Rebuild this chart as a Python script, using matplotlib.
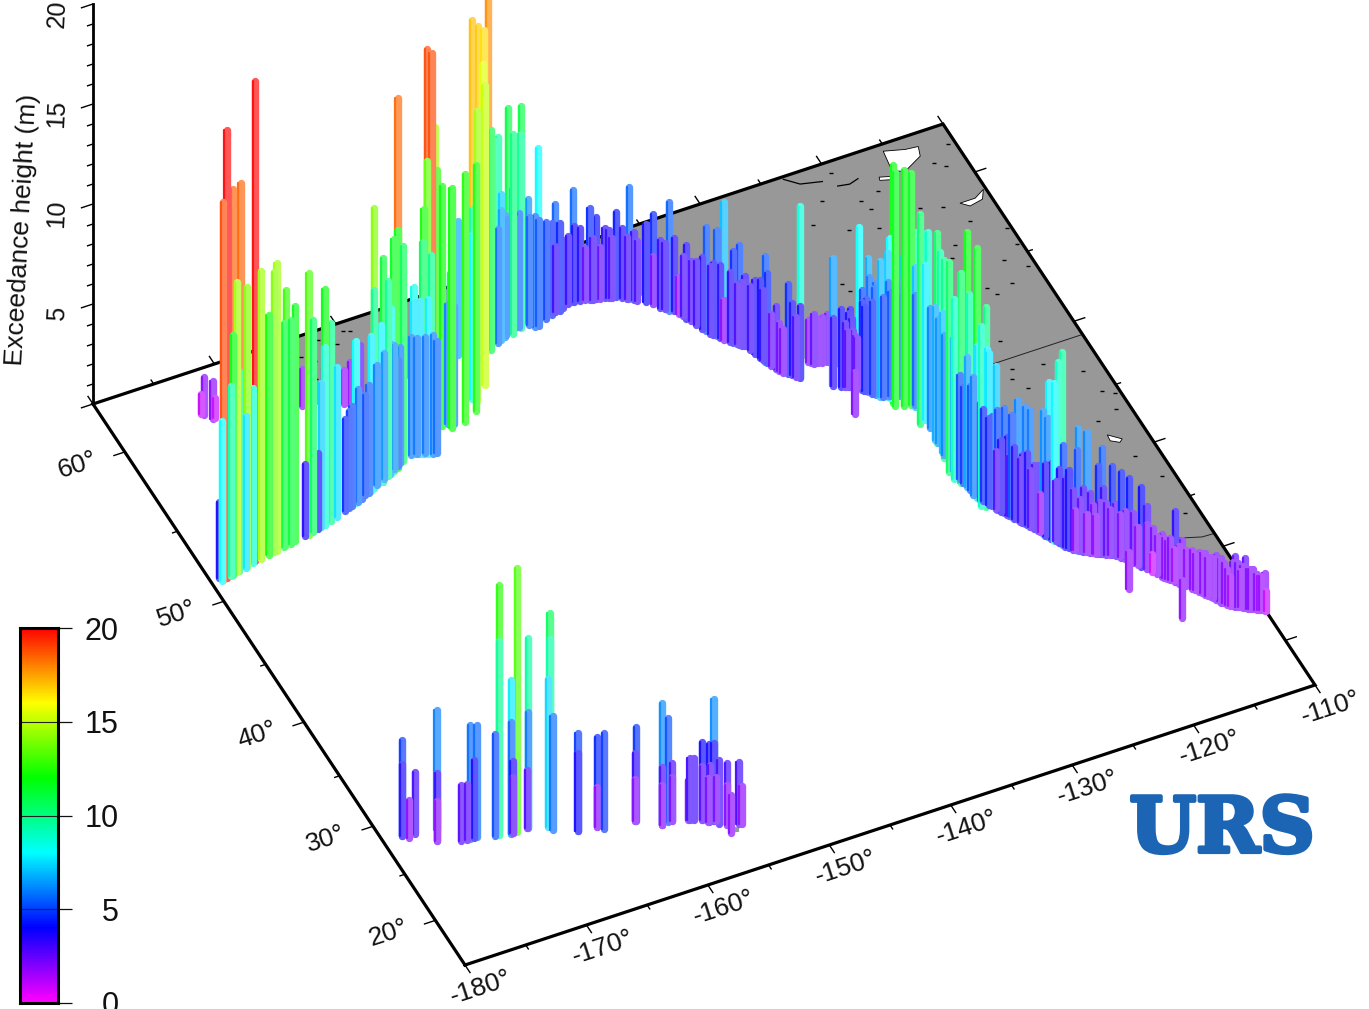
import numpy as np
import matplotlib
matplotlib.use('Agg')
import matplotlib.pyplot as plt
import matplotlib.patheffects as pe
from matplotlib.collections import LineCollection
from matplotlib.colors import LinearSegmentedColormap

plt.rcParams['font.family'] = ['Liberation Sans', 'DejaVu Sans']

# stations, lon / lat / exceedance height (m)
aleut_lon = [-179.3, -179.2, -179.1, -178.8, -178.4, -178.2, -177.5, -177.8, -177.6, -176.7,
             -177.0, -176.9, -176.3, -176.1, -175.6, -174.9, -174.4, -174.2, -173.5, -173.3,
             -172.9, -172.5, -171.6, -171.3, -170.9, -170.4, -170.1, -169.8, -169.8, -169.2, -168.6]
aleut_lat = [51.5, 51.3, 51.3, 51.36, 51.4, 51.45, 52.4, 51.5, 51.55, 52.6,
             51.6, 51.65, 51.75, 51.8, 51.85, 51.95, 52.0, 52.0, 52.1, 52.15,
             52.15, 52.2, 52.3, 52.35, 52.4, 52.5, 52.55, 52.6, 52.6, 52.7, 52.8]
aleut_h = [3.8, 8.0, 18.9, 22.4, 9.5, 12.0, 18.5, 14.5, 10.0, 18.5,
           7.6, 14.0, 8.75, 24.0, 14.4, 12.0, 14.0, 14.4, 11.2, 12.75,
           11.2, 11.75, 3.6, 13.1, 10.6, 3.8, 7.2, 8.9, 11.8, 9.9, 7.5]

bering_lon = [-173.15, -173.0, -172.6, -172.4, -165.95, -164.5, -163.1, -162.66, -161.67]
bering_lat = [60.6, 60.5, 60.2, 60.2, 59.4, 59.0, 58.8, 58.7, 58.9]
bering_h = [1.0, 1.9, 1.9, 1.0, 1.85, 1.9, 1.7, 2.1, 2.6]

penin_lon = [-167.4, -166.7, -166.5, -165.7, -165.1, -164.8, -164.8, -164.1, -163.9, -163.3,
             -163.1, -163.0, -162.7, -162.3, -162.2, -162.2, -161.6, -161.5, -161.5, -160.8,
             -160.6, -160.6, -160.2, -160.0, -159.9, -159.8, -159.6, -159.4, -159.3, -158.65,
             -158.47, -158.35, -157.5, -157.5, -157.38, -156.96, -156.87, -156.76, -156.5, -155.65,
             -153.17, -154.13, -154.43, -154.2, -153.92, -152.36, -152.71, -152.45, -152.1, -151.66,
             -150.75, -150.7, -149.21, -149.6, -148.54, -148.5, -147.56, -147.7, -145.63, -147.0,
             -149.5, -149.6, -148.3, -148.1, -149.2, -149.9]
penin_lat = [53.1, 53.3, 53.3, 53.55, 53.7, 53.8, 53.8, 54.0, 54.0, 54.2,
             54.3, 54.3, 54.4, 54.5, 54.6, 54.6, 54.8, 54.9, 54.9, 55.0,
             54.95, 54.95, 54.85, 54.8, 54.8, 54.8, 54.7, 54.7, 54.6, 56.0,
             56.2, 55.9, 56.6, 56.4, 56.0, 56.0, 55.7, 56.0, 55.9, 55.8,
             59.4, 56.9, 56.2, 56.9, 56.7, 58.0, 57.4, 58.9, 58.7, 58.7,
             59.3, 59.1, 60.1, 60.0, 59.9, 59.5, 59.8, 59.7, 60.4, 59.8,
             59.5, 59.4, 59.8, 59.8, 59.5, 59.3]
penin_h = [4.85, 8.1, 5.65, 5.0, 7.75, 14.0, 9.9, 7.85, 11.2, 9.75,
           6.55, 8.3, 11.6, 11.9, 18.4, 5.3, 10.75, 9.6, 7.6, 5.9,
           8.35, 7.6, 7.65, 10.6, 12.25, 5.8, 7.75, 9.9, 5.95, 13.5,
           18.9, 18.9, 14.5, 12.5, 12.0, 6.0, 12.0, 7.5, 5.9, 12.4,
           6.7, 9.5, 12.3, 8.2, 14.5, 15.5, 15.0, 17.0, 16.8, 16.5,
           17.8, 11.0, 9.5, 9.5, 11.0, 10.0, 11.0, 9.7, 8.0, 6.2,
           7.2, 6.5, 7.0, 5.5, 6.1, 5.7]

gulf_lon = [-147.0, -146.7, -146.4, -145.6, -145.0, -144.7, -144.7, -144.3, -143.9, -143.0,
            -142.5, -142.1, -141.8, -141.3, -141.0, -140.7, -140.2, -139.9, -139.5, -139.1,
            -138.8, -138.6, -138.1, -137.7, -137.7, -137.4, -136.9, -136.6, -136.4, -136.1,
            -135.9, -135.5, -135.3, -135.0, -134.85, -134.65, -134.5, -134.5, -134.0, -133.8,
            -133.7, -133.4, -133.05, -132.9, -132.7, -132.6, -132.5, -132.3, -132.0, -131.7,
            -131.5, -131.05, -131.05]
gulf_lat = [59.7, 59.5, 59.5, 59.7, 59.85, 59.9, 59.9, 59.9, 60.0, 60.1,
            60.05, 60.0, 59.95, 59.9, 59.85, 59.8, 59.7, 59.65, 59.5, 59.35,
            59.25, 59.15, 58.95, 58.7, 58.7, 58.4, 58.1, 58.0, 57.8, 57.4,
            57.2, 56.6, 56.4, 56.1, 55.95, 55.8, 55.65, 55.65, 55.3, 55.15,
            55.05, 54.9, 54.3, 53.95, 53.65, 53.55, 53.3, 53.0, 52.7, 52.5,
            52.35, 52.05, 52.05]
gulf_h = [5.4, 5.55, 5.3, 4.86, 4.6, 3.33, 5.4, 4.4, 3.4, 5.6,
          3.67, 2.6, 4.6, 4.1, 2.6, 3.5, 3.0, 4.25, 3.5, 5.6,
          3.4, 3.0, 3.9, 4.5, 2.4, 3.4, 5.45, 3.67, 1.83, 3.7,
          3.0, 3.6, 5.2, 3.6, 5.3, 3.67, 6.9, 2.0, 4.6, 3.0,
          5.0, 3.5, 3.67, 3.9, 5.3, 4.5, 2.6, 3.17, 2.2, 4.5,
          3.6, 8.6, 3.6]

bc_lon = [-129.82, -129.53, -128.88, -129.24, -129.2, -128.7, -128.2, -129.0, -128.3, -128.1,
          -127.9, -127.7, -127.5, -127.4, -127.4, -127.2, -127.1, -127.0, -126.8, -126.7,
          -126.5, -126.0, -125.95, -125.9, -125.6, -125.93, -125.9, -125.1, -124.95, -124.9,
          -125.3, -124.5, -124.5, -124.76, -124.37, -124.6, -124.29, -125.0, -123.65, -124.4,
          -123.95, -124.5, -124.5, -124.75, -124.7, -124.95, -124.8, -125.2, -125.16, -124.85,
          -124.8, -124.9, -123.81, -124.4, -124.7, -123.7, -124.6, -124.45, -124.35, -124.55,
          -124.25, -124.05, -124.0, -124.0, -123.7, -123.7, -123.65]
bc_lat = [52.8, 52.6, 52.5, 50.9, 50.9, 50.7, 50.5, 48.7, 50.55, 50.5,
          50.4, 50.3, 50.3, 50.1, 50.1, 49.9, 49.8, 49.8, 49.55, 49.5,
          49.3, 49.1, 49.15, 49.0, 49.1, 48.6, 48.4, 48.9, 48.85, 48.8,
          48.2, 48.7, 48.5, 48.1, 48.2, 47.9, 47.7, 46.7, 47.9, 47.0,
          47.3, 46.8, 45.0, 45.0, 45.3, 43.8, 44.2, 42.7, 42.1, 42.7,
          42.0, 41.7, 42.6, 41.4, 41.2, 41.5, 40.5, 40.2, 40.0, 39.5,
          39.3, 39.5, 39.4, 39.4, 38.9, 38.9, 38.8]
bc_h = [2.1, 2.5, 2.3, 6.4, 3.4, 3.9, 3.7, 2.1, 2.8, 3.9,
        2.85, 2.5, 8.0, 5.0, 4.4, 4.6, 6.7, 5.75, 5.3, 5.6,
        6.8, 7.2, 5.7, 8.0, 5.85, 11.9, 11.7, 5.75, 7.0, 7.0,
        11.8, 8.3, 6.85, 11.6, 8.5, 7.0, 8.6, 10.5, 8.5, 6.1,
        9.0, 7.75, 9.5, 10.5, 6.65, 9.9, 7.0, 10.5, 9.0, 6.65,
        5.2, 10.5, 11.8, 9.5, 6.5, 11.6, 5.9, 7.6, 4.85, 9.0,
        10.0, 7.75, 7.6, 4.35, 7.15, 2.9, 5.0]

calif_lon = [-123.35, -123.1, -123.0, -122.75, -122.65, -122.4, -122.2, -122.2, -121.75, -121.65,
             -121.45, -121.4, -121.2, -121.1, -121.0, -120.85, -120.8, -120.55, -120.3, -120.15,
             -120.05, -120.0, -119.5, -119.5, -118.95, -118.8, -118.55, -118.5, -118.05, -117.9,
             -117.45, -117.4]
calif_lat = [38.4, 38.05, 37.9, 37.5, 37.35, 37.05, 36.7, 36.7, 36.0, 35.8,
             35.45, 35.4, 35.0, 34.9, 34.75, 34.45, 34.4, 34.0, 33.75, 33.7,
             33.6, 33.55, 33.2, 33.2, 32.85, 32.8, 32.65, 32.6, 32.35, 32.3,
             31.9, 31.85]
calif_h = [5.25, 3.0, 5.1, 6.0, 3.15, 5.85, 5.85, 2.85, 1.9, 6.15,
           5.95, 7.75, 7.9, 3.0, 9.0, 9.65, 5.0, 3.9, 3.0, 2.0,
           5.0, 6.15, 6.0, 1.9, 1.9, 4.4, 5.3, 3.3, 2.3, 4.45,
           2.15, 4.3]

mex_lon = [-117.05, -118.32, -116.65, -116.5, -116.2, -116.2, -115.95, -115.9, -115.7, -115.5,
           -115.25, -114.9, -114.85, -114.5, -116.0, -114.3, -114.05, -113.7, -113.4, -113.15,
           -112.9, -112.65, -112.35, -112.2, -111.9, -111.6, -111.3, -111.1, -110.8, -110.45,
           -110.1, -110.0]
mex_lat = [31.3, 29.0, 30.75, 30.55, 30.2, 30.2, 29.8, 29.75, 29.5, 29.15,
           28.85, 28.4, 28.3, 27.9, 25.0, 27.65, 27.25, 26.8, 26.35, 26.0,
           25.65, 25.25, 24.9, 24.7, 24.5, 24.3, 24.1, 23.95, 23.75, 23.5,
           23.25, 23.2]
mex_h = [4.2, 1.85, 1.9, 4.0, 3.15, 2.25, 0.9, 2.2, 1.9, 2.15,
         1.9, 1.6, 3.55, 2.25, 1.9, 1.8, 1.95, 2.0, 2.1, 2.0,
         2.25, 2.25, 1.8, 1.5, 2.55, 1.8, 2.5, 2.0, 2.0, 1.7,
         1.9, 1.0]

# the lower bars that make the solid wall along the coast
wall_lon = [-167.8, -167.1, -166.1, -165.4, -164.5, -163.7, -162.6, -161.9, -160.4, -159.0,
            -149.0, -148.7, -147.8, -143.4, -142.9, -141.6, -140.4, -139.2, -137.1, -136.2,
            -135.7, -135.15, -134.2, -133.55, -133.2, -132.8, -132.15, -131.3, -129.65, -129.2,
            -128.5, -128.45, -128.0, -127.8, -127.3, -126.9, -126.3, -125.75, -125.4, -124.85,
            -124.6, -124.5, -124.45, -124.5, -124.65, -124.8, -124.85, -124.8, -124.75, -124.6,
            -124.2, -123.85, -123.5, -123.2, -122.9, -122.55, -122.3, -122.0, -121.85, -121.55,
            -121.3, -120.95, -120.7, -119.9, -119.7, -119.3, -119.1, -118.7, -118.3, -117.7,
            -117.2, -116.85, -115.4, -115.1, -114.7, -113.9, -113.55, -113.3, -113.0, -112.75,
            -112.5, -112.05, -111.75, -111.45, -110.95, -110.6, -110.3]
wall_lat = [53.0, 53.2, 53.4, 53.6, 53.9, 54.1, 54.5, 54.7, 54.9, 54.6,
            59.6, 59.7, 59.75, 60.1, 60.1, 59.9, 59.75, 59.4, 58.3, 57.6,
            56.9, 56.2, 55.4, 55.0, 54.6, 53.8, 52.85, 52.2, 52.7, 52.55,
            52.45, 50.6, 50.45, 50.35, 50.0, 49.65, 49.2, 49.1, 49.0, 48.8,
            48.5, 48.0, 47.4, 46.2, 45.0, 44.0, 43.0, 42.3, 41.6, 40.9,
            39.8, 39.2, 38.6, 38.2, 37.7, 37.2, 36.9, 36.4, 36.2, 35.6,
            35.2, 34.65, 34.2, 33.5, 33.35, 33.05, 32.95, 32.75, 32.5, 32.15,
            31.65, 31.05, 29.0, 28.6, 28.1, 27.05, 26.6, 26.2, 25.85, 25.45,
            25.1, 24.6, 24.4, 24.2, 23.85, 23.6, 23.4]
wall_h = [4.6, 5.0, 5.2, 5.4, 6.0, 6.3, 6.2, 5.8, 5.8, 5.6,
          5.8, 5.5, 5.7, 3.4, 3.8, 3.1, 3.4, 3.1, 3.3, 3.0,
          3.2, 3.4, 3.5, 3.2, 3.2, 3.5, 2.4, 3.0, 2.2, 2.2,
          2.4, 3.2, 3.4, 2.6, 4.2, 4.6, 5.0, 5.2, 5.0, 5.5,
          5.7, 5.5, 5.7, 6.0, 6.2, 6.0, 6.0, 5.0, 4.8, 5.2,
          4.6, 4.5, 3.6, 3.9, 3.6, 3.4, 3.6, 3.2, 3.3, 3.6,
          3.8, 3.7, 3.4, 2.6, 3.2, 3.0, 2.4, 2.6, 2.6, 2.6,
          2.4, 2.5, 2.0, 2.1, 1.9, 1.8, 2.0, 1.9, 2.0, 2.1,
          2.0, 2.2, 2.2, 2.1, 2.0, 1.8, 1.7]

hawaii_lon = [-178.45, -178.45, -178.1, -177.5, -175.9, -176.35, -176.35, -174.7, -174.3, -174.0,
              -173.5, -173.7, -171.9, -171.9, -172.2, -170.5, -171.0, -171.0, -170.9, -170.9,
              -169.6, -169.6, -169.7, -168.1, -168.1, -168.2, -168.06, -166.4, -166.4, -164.9,
              -164.9, -164.5, -162.0, -162.1, -162.1, -160.4, -159.85, -160.4, -160.4, -159.6,
              -159.6, -158.44, -158.33, -158.04, -157.5, -157.5, -157.1, -156.76, -156.76, -157.2,
              -156.6, -157.0, -156.5, -156.05, -156.05, -156.1, -155.2, -155.0]
hawaii_lat = [28.4, 28.4, 28.0, 28.2, 27.9, 27.0, 27.0, 26.3, 26.2, 26.2,
              26.2, 26.2, 25.7, 25.7, 25.75, 25.5, 25.5, 25.5, 25.5, 25.5,
              25.5, 25.5, 25.5, 25.0, 25.0, 25.0, 24.6, 23.8, 23.8, 23.6,
              23.6, 23.2, 23.0, 23.0, 23.0, 21.9, 22.0, 21.9, 21.9, 21.9,
              21.9, 21.6, 21.5, 21.4, 21.1, 21.1, 20.8, 20.7, 20.7, 20.75,
              20.6, 20.8, 20.3, 19.9, 19.9, 19.1, 19.7, 19.6]
hawaii_h = [4.8, 3.6, 1.9, 3.1, 6.0, 3.4, 2.0, 2.8, 2.8, 5.7,
            5.6, 3.9, 12.5, 9.7, 5.1, 13.2, 7.7, 5.6, 3.6, 2.8,
            9.5, 5.8, 2.9, 10.7, 9.4, 7.4, 5.7, 4.9, 3.9, 4.5,
            2.0, 4.8, 4.7, 3.4, 2.1, 6.1, 5.2, 2.9, 2.0, 2.9,
            2.2, 2.0, 3.1, 3.1, 3.9, 2.7, 3.9, 6.1, 3.9, 2.2,
            2.2, 2.8, 3.2, 3.1, 2.0, 1.9, 3.1, 1.9]

# land outline, west to east along the coast then round the map edge
land_lon = [-163.36, -166.2, -163.1, -161.67, -158.0, -153.17, -149.5, -147.4, -143.2, -140.1,
            -138.4, -136.6, -134.8, -133.3, -132.3, -131.0, -129.3, -127.6, -126.0, -124.2,
            -123.9, -124.2, -124.0, -123.2, -122.0, -120.3, -119.2, -117.3, -115.7, -113.6,
            -112.2, -110.0, -110.0]
land_lat = [62.7, 59.5, 58.8, 58.9, 59.0, 59.4, 59.8, 60.0, 60.3, 60.0,
            59.5, 58.5, 56.5, 55.3, 53.9, 53.4, 52.9, 51.6, 50.2, 49.5,
            47.8, 43.6, 41.0, 39.3, 37.0, 34.3, 33.5, 32.4, 30.2, 27.5,
            25.1, 23.2, 62.7]
bigisland_lon = [-155.9, -155.3, -155.5, -156.0]
bigisland_lat = [19.6, 19.4, 18.95, 19.1]

# lakes and little shoreline bits: lon and fraction of the map height
slave_lon = [-115.26, -113.69, -112.68, -112.98, -114.68, -115.55]
slave_v = [0.989, 0.981, 0.979, 0.964, 0.949, 0.956]
athab_lon = [-112.4, -111.15, -110.2, -110.7, -111.84]
athab_v = [0.876, 0.876, 0.885, 0.871, 0.867]
small_lon = [-116.7, -115.8, -115.9, -116.8]
small_v = [0.953, 0.948, 0.943, 0.948]
salt_lon = [-112.83, -112.0, -112.31, -112.9]
salt_v = [0.466, 0.453, 0.449, 0.456]
shore1_lon = [-123.27, -122.35, -120.73]
shore1_v = [0.996, 0.981, 0.974]
shore2_lon = [-119.9, -119.0, -118.2]
shore2_v = [0.96, 0.957, 0.961]
speck_lon = [-121.6, -119, -118.7, -117.4, -123.3, -121.1, -119, -115.3, -113.7, -112.5,
             -110.3, -110.4, -114.6, -115.4, -112, -110.6, -112.45, -114.4, -114, -115.85,
             -110.6, -112.4, -111.7, -119.8, -124, -123.8, -114, -116.3, -116.75, -116.07,
             -111.6, -111.2, -110.4, -111.1, -112.8, -111.9, -110.95, -111.1, -161.94, -159.83,
             -160.8, -159.35, -163.06, -163.85, -163.82, -131.9]
speck_v = [0.946, 0.927, 0.91, 0.933, 0.915, 0.89, 0.879, 0.888, 0.878, 0.845,
           0.817, 0.789, 0.818, 0.8, 0.772, 0.752, 0.734, 0.739, 0.725, 0.655,
           0.968, 0.947, 0.937, 0.982, 0.815, 0.8, 0.601, 0.609, 0.594, 0.573,
           0.572, 0.533, 0.524, 0.5, 0.491, 0.421, 0.38, 0.314, 0.986, 0.986,
           0.97, 0.982, 0.955, 0.969, 0.93, 0.723]

lon_ticks = [-180, -170, -160, -150, -140, -130, -120, -110]
lat_ticks = [20, 30, 40, 50, 60]
z_ticks = [5, 10, 15, 20]
cbar_ticks = [0, 5, 10, 15, 20]

LAT0, LAT1 = 15.0, 62.7


def merc(lat):
    return np.degrees(np.log(np.tan(np.radians(45 + np.asarray(lat, dtype=float) / 2))))


def place(lon, v, z=0.0):
    # oblique view of the map, map fraction v runs south to north
    u = np.asarray(lon, dtype=float) + 180
    v = np.asarray(v, dtype=float)
    x = 465 + 12.143 * u - 372 * v
    y = 965 - 4.0 * u - 561 * v - 20 * np.asarray(z, dtype=float)
    return x, y


def lat_v(lat):
    return (merc(lat) - merc(LAT0)) / (merc(LAT1) - merc(LAT0))


def project(lon, lat, z=0.0):
    return place(lon, lat_v(lat), z)


cmap = LinearSegmentedColormap.from_list(
    'rain', ['#ff00ff', '#0000ff', '#00ffff', '#00ff00', '#ffff00', '#ff0000'])

fig = plt.figure(figsize=(13.69, 10.09), dpi=100)
ax = fig.add_axes([0, 0, 1, 1])
ax.set_xlim(0, 1369)
ax.set_ylim(1009, 0)
ax.axis('off')

# land and lakes
lx, ly = project(land_lon, land_lat)
ax.fill(lx, ly, color='#989898', lw=0, zorder=1)
ix, iy = project(bigisland_lon, bigisland_lat)
ax.fill(ix, iy, color='#989898', lw=0, zorder=1)
for lk_lon, lk_v in [(slave_lon, slave_v), (athab_lon, athab_v), (small_lon, small_v), (salt_lon, salt_v)]:
    kx, ky = place(lk_lon, lk_v)
    ax.fill(kx, ky, facecolor='white', edgecolor='black', lw=0.6, zorder=1.1)
for sh_lon, sh_v in [(shore1_lon, shore1_v), (shore2_lon, shore2_v)]:
    kx, ky = place(sh_lon, sh_v)
    ax.plot(kx, ky, color='black', lw=0.9, zorder=1.1)
kx, ky = place(speck_lon, speck_v)
ax.scatter(kx, ky, s=6, marker='_', color='black', linewidths=1.0, zorder=1.1)

# borders
kx, ky = project([-123, -110], [49, 49])
ax.plot(kx, ky, color='#222222', lw=0.7, zorder=1.1)
kx, ky = project([-113, -111, -110], [32.0, 31.35, 31.3])
ax.plot(kx, ky, color='#222222', lw=0.7, zorder=1.1)

# map frame
corner_lon = [-180, -110, -110, -180, -180]
corner_v = [0, 0, 1, 1, 0]
kx, ky = place(corner_lon, corner_v)
ax.plot(kx, ky, color='black', lw=2.3, solid_joinstyle='miter', zorder=2)

# frame ticks
tick_segs = []
tick_text = dict(fontsize=19, rotation=18, rotation_mode='anchor', ha='center', va='center', color='#111111')
for lon in range(-180, -105, 5):
    major = lon % 10 == 0
    a = 0.0145 if major else 0.008
    x0, y0 = place(lon, 0)
    x1, y1 = place(lon, -a)
    tick_segs.append([(x0, y0), (x1, y1)])
    x0, y0 = place(lon, 1)
    x1, y1 = place(lon, 1 + a)
    tick_segs.append([(x0, y0), (x1, y1)])
for lat in range(20, 65, 5):
    major = lat % 10 == 0
    a = 0.95 if major else 0.45
    v = lat_v(lat)
    x0, y0 = place(-180, v)
    x1, y1 = place(-180 - a, v)
    tick_segs.append([(x0, y0), (x1, y1)])
    x0, y0 = place(-110, v)
    x1, y1 = place(-110 + a, v)
    tick_segs.append([(x0, y0), (x1, y1)])
ax.add_collection(LineCollection(tick_segs, colors='black', linewidths=1.0, zorder=2))

for lon in lon_ticks:
    x0, y0 = place(lon, 0)
    ax.text(x0 + 16, y0 + 23, f'{lon}\N{DEGREE SIGN}', **tick_text)
for lat in lat_ticks:
    x0, y0 = place(-180, lat_v(lat))
    ax.text(x0 - 47, y0 + 13, f'{lat}\N{DEGREE SIGN}', **tick_text)

# height axis
zx, z0 = place(-180, 1, 0)
zx, z20 = place(-180, 1, 20)
ax.plot([zx, zx], [z0, z20], color='black', lw=2.0, zorder=2)
z_segs = []
for z in range(0, 21):
    major = z % 5 == 0
    x0, y0 = place(-180, 1, z)
    x1, y1 = place(-180 - (1.0 if major else 0.5), 1, z)
    z_segs.append([(x0, y0), (x1, y1)])
ax.add_collection(LineCollection(z_segs, colors='black', linewidths=1.0, zorder=2))
for z in z_ticks:
    x0, y0 = place(-180, 1, z)
    ax.text(x0 - 36, y0 + 10, str(z), fontsize=18, rotation=87, ha='center', va='center', color='#111111')
ax.text(22, 230, 'Exceedance height (m)', fontsize=19, rotation=87, ha='center', va='center', color='#111111')

# bars, painted back to front
bar_lon = np.array(aleut_lon + bering_lon + penin_lon + gulf_lon + bc_lon + calif_lon + mex_lon + wall_lon + hawaii_lon)
bar_lat = np.array(aleut_lat + bering_lat + penin_lat + gulf_lat + bc_lat + calif_lat + mex_lat + wall_lat + hawaii_lat)
bar_h = np.array(aleut_h + bering_h + penin_h + gulf_h + bc_h + calif_h + mex_h + wall_h + hawaii_h)

bx, by = project(bar_lon, bar_lat)
tx, ty = project(bar_lon, bar_lat, bar_h)
order = np.lexsort((-bar_h, np.round(by / 8)))

segs, cols, widths = [], [], []
white = np.array([1.0, 1.0, 1.0])
for i in order:
    c = np.array(cmap(min(bar_h[i] / 20, 1.0))[:3])
    segs.append([(bx[i] + 0.3, by[i]), (tx[i] + 0.3, ty[i])])
    cols.append(tuple(c * 0.66 + white * 0.34))
    widths.append(5.3)
    segs.append([(bx[i] - 2.0, by[i]), (tx[i] - 2.0, ty[i])])
    cols.append(tuple(c * 0.92 + white * 0.08))
    widths.append(1.6)
bars = LineCollection(segs, colors=cols, linewidths=widths, capstyle='round', zorder=3)
ax.add_collection(bars)

# logo
ax.text(1222, 831, 'URS', family='DejaVu Serif', fontweight='bold', fontsize=55, color='#1c65b4',
        ha='center', va='center', path_effects=[pe.withStroke(linewidth=3, foreground='#1c65b4')])

# colour bar
cax = fig.add_axes([19.5 / 1369, (1009 - 1003) / 1009, 38 / 1369, 375 / 1009])
grad = np.linspace(0, 1, 256).reshape(-1, 1)
cax.imshow(grad, origin='lower', aspect='auto', cmap=cmap, extent=[0, 1, 0, 20])
cax.set_xticks([])
cax.set_yticks(cbar_ticks)
cax.yaxis.tick_right()
cax.tick_params(axis='y', length=10, width=0.9, pad=34, labelsize=22, colors='#111111')
for lab in cax.get_yticklabels():
    lab.set_ha('right')
for t in cbar_ticks[1:-1]:
    cax.axhline(t, color='#222222', lw=0.8)
for sp in cax.spines.values():
    sp.set_linewidth(2.2)

fig.savefig('out.png', dpi=100)
